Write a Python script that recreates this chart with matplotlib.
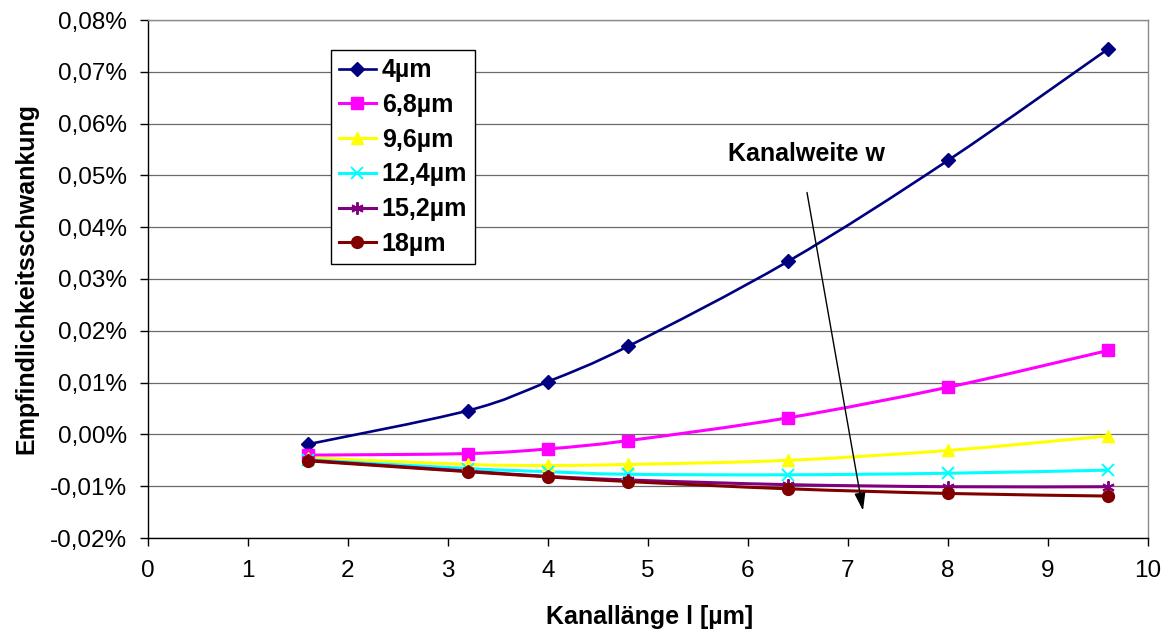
import matplotlib
matplotlib.use("Agg")
import matplotlib.pyplot as plt
from matplotlib.path import Path
from matplotlib.patches import PathPatch
from matplotlib.lines import Line2D
from matplotlib.ticker import FuncFormatter, MultipleLocator

plt.rcParams['font.family'] = ['Liberation Sans', 'DejaVu Sans']

# Kanallänge l [µm]
kanallaenge = [1.6, 3.2, 4.0, 4.8, 6.4, 8.0, 9.6]

# Empfindlichkeitsschwankung in % for each Kanalweite w
w_4_0 = [-0.0019, 0.0046, 0.0102, 0.0170, 0.0334, 0.0529, 0.0744]
w_6_8 = [-0.0040, -0.0037, -0.0028, -0.0012, 0.0032, 0.0091, 0.0162]
w_9_6 = [-0.0045, -0.0058, -0.0060, -0.0058, -0.0050, -0.0031, -0.0003]
w_12_4 = [-0.0049, -0.0066, -0.0072, -0.0077, -0.0078, -0.0075, -0.0069]
w_15_2 = [-0.0050, -0.0071, -0.0081, -0.0088, -0.0097, -0.0101, -0.0101]
w_18_0 = [-0.0051, -0.0072, -0.0082, -0.0091, -0.0105, -0.0114, -0.0119]

labels = ["4µm", "6,8µm", "9,6µm", "12,4µm", "15,2µm", "18µm"]
series = [w_4_0, w_6_8, w_9_6, w_12_4, w_15_2, w_18_0]
colors = ["#000080", "#FF00FF", "#FFFF00", "#00FFFF", "#800080", "#800000"]
markers = ["D", "s", "^", "x", (6, 2, 0), "o"]
msizes = [7.5, 8, 8.5, 9, 9, 8.5]
lwidths = [1.9, 2.2, 2.2, 2.2, 2.2, 2.2]


def smooth_path(xs, ys):
    """Catmull-Rom style cubic Bezier path through the given points."""
    pts = list(zip(xs, ys))
    verts = [pts[0]]
    codes = [Path.MOVETO]
    n = len(pts)
    for i in range(n - 1):
        p0 = pts[i - 1] if i > 0 else pts[i]
        p1 = pts[i]
        p2 = pts[i + 1]
        p3 = pts[i + 2] if i + 2 < n else pts[i + 1]
        c1 = (p1[0] + (p2[0] - p0[0]) / 6.0, p1[1] + (p2[1] - p0[1]) / 6.0)
        c2 = (p2[0] - (p3[0] - p1[0]) / 6.0, p2[1] - (p3[1] - p1[1]) / 6.0)
        verts += [c1, c2, p2]
        codes += [Path.CURVE4] * 3
    return Path(verts, codes)


fig = plt.figure(figsize=(11.7, 6.32), dpi=100)
ax = fig.add_axes([148 / 1170, 1 - 538 / 632, 1000 / 1170, 518 / 632])

ax.set_xlim(0, 10)
ax.set_ylim(-0.02, 0.08)
ax.xaxis.set_major_locator(MultipleLocator(1))
ax.yaxis.set_major_locator(MultipleLocator(0.01))
ax.yaxis.set_major_formatter(
    FuncFormatter(lambda v, p: f"{v:.2f}%".replace(".", ",").replace("-0,00", "0,00")))

ax.grid(axis="y", color="#6a6a6a", linewidth=0.9, zorder=0)
ax.set_axisbelow(True)
ax.tick_params(axis="both", direction="out", length=6, width=1, color="black",
               labelsize=17.5)
ax.tick_params(axis="y", pad=9)
ax.tick_params(axis="x", pad=10)
for side in ("left", "bottom"):
    ax.spines[side].set_color("black")
    ax.spines[side].set_linewidth(1.0)
for side in ("top", "right"):
    ax.spines[side].set_color("#8a8a8a")
    ax.spines[side].set_linewidth(1.0)

handles = []
for ys, lab, c, m, ms, lw in zip(series, labels, colors, markers, msizes, lwidths):
    patch = PathPatch(smooth_path(kanallaenge, ys), facecolor="none", edgecolor=c,
                      linewidth=lw, zorder=3, capstyle="round", joinstyle="round")
    ax.add_patch(patch)
    mkw = dict(markeredgecolor=c, markerfacecolor=c)
    if m in ("x",) or isinstance(m, tuple):
        mkw["markeredgewidth"] = 1.4
    ax.plot(kanallaenge, ys, linestyle="none", marker=m, markersize=ms, zorder=4, **mkw)
    handles.append(Line2D([], [], color=c, linewidth=lw, marker=m, markersize=ms, **mkw))

leg = fig.legend(handles, labels, loc="upper left",
                 bbox_to_anchor=(331 / 1170, 1 - 50 / 632),
                 bbox_transform=fig.transFigure, borderaxespad=0,
                 prop={"weight": "bold", "size": 18}, frameon=True, fancybox=False,
                 handlelength=1.45, handletextpad=0.25, labelspacing=0.43,
                 borderpad=0.33, framealpha=1)
leg.get_frame().set_edgecolor("black")
leg.get_frame().set_linewidth(1.0)

# Direction of increasing Kanalweite
ax.text(6.59, 0.0542, "Kanalweite w", fontsize=18, fontweight="bold",
        ha="center", va="center")
ax.annotate("", xy=(7.15, -0.0147), xytext=(6.59, 0.0467),
            arrowprops=dict(arrowstyle="-|>,head_length=0.9,head_width=0.28",
                            color="black", lw=1.0, mutation_scale=12,
                            shrinkA=0, shrinkB=0), zorder=5)

fig.text(650 / 1170, 1 - 624 / 632, "Kanallänge l [µm]", fontsize=18,
         fontweight="bold", ha="center", va="baseline")
fig.text(26 / 1170, 1 - 279 / 632, "Empfindlichkeitsschwankung", fontsize=18,
         fontweight="bold", ha="center", va="center", rotation=90)

fig.savefig("out.png", dpi=100, facecolor="white")
